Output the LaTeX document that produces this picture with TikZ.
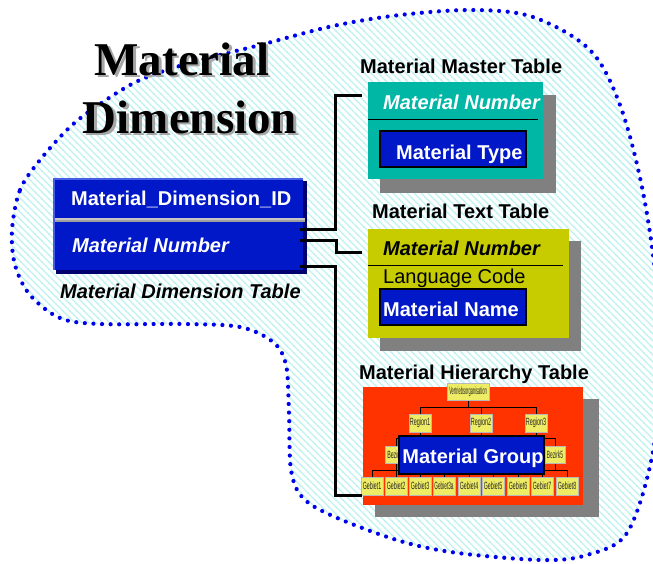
\documentclass[tikz,border=0pt]{standalone}
\usepackage{fontspec}
\setmainfont{Liberation Sans}
\newfontfamily\titlefont{Liberation Serif}
\usepackage{graphicx}
\usetikzlibrary{patterns}
\pgfdeclarepatternformonly{myhatch}{\pgfpoint{-1pt}{-1pt}}{\pgfpoint{8pt}{8pt}}{\pgfpoint{7pt}{7pt}}{%
 \pgfsetlinewidth{1.4pt}%
 \pgfpathmoveto{\pgfpoint{-0.5pt}{7.5pt}}%
 \pgfpathlineto{\pgfpoint{7.5pt}{-0.5pt}}%
 \pgfusepath{stroke}}
\definecolor{dimblue}{RGB}{0,24,200}
\definecolor{dimlight}{RGB}{70,95,230}
\definecolor{dimdark}{RGB}{0,0,110}
\definecolor{tealc}{RGB}{0,182,165}
\definecolor{olivec}{RGB}{198,204,0}
\definecolor{redc}{RGB}{255,51,0}
\definecolor{shadowg}{RGB}{128,128,128}
\definecolor{yelc}{RGB}{238,236,100}
\definecolor{hatchc}{RGB}{190,242,242}
\definecolor{dotblue}{RGB}{0,0,235}
\tikzset{
 panel/.style={draw=none, inner sep=0, outer sep=0},
 lbl/.style={inner sep=0, anchor=base west, font=\fontsize{20}{24}\selectfont\bfseries},
 lbli/.style={lbl, font=\fontsize{20}{24}\selectfont\bfseries\itshape},
 lblr/.style={lbl, font=\fontsize{20}{24}\selectfont},
 titlest/.style={inner sep=0, anchor=base, font=\titlefont\fontsize{47}{50}\selectfont\bfseries},
 conn/.style={line width=3, black, line join=miter},
 ybox/.style={draw=gray!55, line width=0.8, fill=yelc, inner sep=0, minimum height=18, font=\fontsize{10.5}{11}\selectfont, text=black!85},
 tree/.style={line width=1, black},
 bluebox/.style={draw=black, line width=1.6, fill=dimblue, inner sep=0},
}
\begin{document}
\begin{tikzpicture}[x=1pt,y=-1pt]
\useasboundingbox (0,0) rectangle (653,563);
% blob
\path[pattern=myhatch, pattern color=hatchc]
  plot[smooth cycle, tension=0.55] coordinates {(12,230) (20,190) (40,160) (70,127) (100,104) (140,80) (193,62) (260,45) (333,26) (400,15) (473,10) (533,17) (590,50) (620,105) (642,187) (656,280) (660,370) (652,457) (627,533) (587,555) (542,560) (458,553) (400,541) (335,517) (303,498) (291,470) (289,413) (286,365) (273,342) (240,327) (183,324) (100,324) (60,318) (30,295) (15,265)};
\draw[dotblue, line width=4.2, line cap=round, dash pattern=on 0pt off 8.6pt]
  plot[smooth cycle, tension=0.55] coordinates {(12,230) (20,190) (40,160) (70,127) (100,104) (140,80) (193,62) (260,45) (333,26) (400,15) (473,10) (533,17) (590,50) (620,105) (642,187) (656,280) (660,370) (652,457) (627,533) (587,555) (542,560) (458,553) (400,541) (335,517) (303,498) (291,470) (289,413) (286,365) (273,342) (240,327) (183,324) (100,324) (60,318) (30,295) (15,265)};
% title
\node[titlest, text=gray!70] (t1s) at (184.5,77.5) {Material};
\node[titlest] (t1) at (182,75) {Material};
\node[titlest, text=gray!70] (t2s) at (192.5,135.5) {Dimension};
\node[titlest] (t2) at (190,133) {Dimension};
% left table
\node[panel, fill=dimdark, minimum width=251, minimum height=93] (lds) at (181.5,227.5) {};
\node[panel, fill=dimblue, minimum width=249, minimum height=91] (ld) at (178.5,224.5) {};
\draw[dimlight, line width=2] (ld.south west) -- (ld.north west) -- (ld.north east);
\draw[gray!45, line width=2] (55,218.5) -- (305,218.5);
\draw[gray!75, line width=2] (55,221) -- (305,221);
\node[lbl, text=white] (ldid) at (71,205) {Material\_Dimension\_ID};
\node[lbli, text=white] (ldnum) at (72,252) {Material Number};
\node[lbli] (ldcap) at (60,298) {Material Dimension Table};
% master table
\node[lbl] (mmcap) at (360,73) {Material Master Table};
\node[panel, fill=shadowg, minimum width=176, minimum height=98] (mms) at (468,144) {};
\node[panel, fill=tealc, minimum width=175, minimum height=97] (mm) at (455.5,130.5) {};
\node[lbli, text=white] (mmnum) at (383,109) {Material Number};
\draw[black, line width=1] (368,119) -- (538,119);
\node[bluebox, minimum width=146, minimum height=36] (mmtype) at (453,149) {};
\node[lbl, text=white] (mmtypet) at (396,159) {Material Type};
% text table
\node[lbl] (mtcap) at (372,218) {Material Text Table};
\node[panel, fill=shadowg, minimum width=201, minimum height=110] (mts) at (480.5,296) {};
\node[panel, fill=olivec, minimum width=201, minimum height=109] (mt) at (468.5,283.5) {};
\node[lbli] (mtnum) at (383,255) {Material Number};
\draw[black, line width=1] (368,265) -- (563,265);
\node[lblr] (mtlang) at (383,283) {Language Code};
\node[bluebox, minimum width=146, minimum height=36] (mtname) at (453,307) {};
\node[lbl, text=white] (mtnamet) at (383,316) {Material Name};
% hierarchy table
\node[lbl] (mhcap) at (359,379) {Material Hierarchy Table};
\node[panel, fill=shadowg, minimum width=224, minimum height=118] (mhs) at (487,458) {};
\node[panel, fill=redc, minimum width=220, minimum height=118] (mh) at (473,446) {};
% tree lines
\draw[tree] (468,400) -- (468,407);
\draw[tree] (420,414) -- (420,407) -- (536,407) -- (536,414);
\draw[tree] (481,407) -- (481,414);
\draw[tree] (420,432) -- (420,438) -- (396,438) -- (396,446);
\draw[tree] (536,432) -- (536,438) -- (555,438) -- (555,446);
\draw[tree] (481,432) -- (481,440);
\draw[tree] (396,463) -- (396,470);
\draw[tree] (555,463) -- (555,470);
\draw[tree] (372,477) -- (372,470) -- (567,470) -- (567,477);
\foreach \gx in {396,420,444,469,493,518,542} { \draw[tree] (\gx,470) -- (\gx,477); }
% boxes
\node[ybox, minimum width=42, minimum height=17] (vo) at (468,391.5) {\scalebox{0.38}[1]{Vertriebsorganisation}};
\node[ybox, minimum width=22] (r1) at (420,423) {\scalebox{0.52}[1]{Region1}};
\node[ybox, minimum width=22] (r2) at (481,423) {\scalebox{0.52}[1]{Region2}};
\node[ybox, minimum width=22] (r3) at (536,423) {\scalebox{0.52}[1]{Region3}};
\node[ybox, minimum width=22, minimum height=17] (b1) at (396,454.5) {\scalebox{0.5}[1]{Bezirk1}};
\node[ybox, minimum width=20, minimum height=17] (b5) at (555,454.5) {\scalebox{0.46}[1]{Bezirk5}};
\node[ybox, minimum width=22] (g1) at (372,486) {\scalebox{0.5}[1]{Gebiet1}};
\node[ybox, minimum width=22] (g2) at (396,486) {\scalebox{0.5}[1]{Gebiet2}};
\node[ybox, minimum width=22] (g3) at (420,486) {\scalebox{0.5}[1]{Gebiet3}};
\node[ybox, minimum width=22] (g3a) at (444,486) {\scalebox{0.45}[1]{Gebiet3a}};
\node[ybox, minimum width=22] (g4) at (469,486) {\scalebox{0.5}[1]{Gebiet4}};
\node[ybox, minimum width=22] (g5) at (493,486) {\scalebox{0.5}[1]{Gebiet5}};
\node[ybox, minimum width=22] (g6) at (518,486) {\scalebox{0.5}[1]{Gebiet6}};
\node[ybox, minimum width=22] (g7) at (542,486) {\scalebox{0.5}[1]{Gebiet7}};
\node[ybox, minimum width=22] (g8) at (567,486) {\scalebox{0.5}[1]{Gebiet8}};
\node[bluebox, line width=2, minimum width=145, minimum height=38] (mg) at (471.5,455) {};
\node[lbl, text=white, anchor=base] (mgt) at (473,463) {Material Group};
% connectors
\coordinate (c1s) at (300,229);
\coordinate (c1e) at (362,95);
\coordinate (c2s) at (300,240);
\coordinate (c2m) at (336,252);
\coordinate (c2e) at (362,252);
\coordinate (c3s) at (300,266);
\coordinate (c3e) at (362,495);
\draw[conn] (c1s) -| (335,95) -- (c1e);
\draw[conn] (c2s) -| (c2m) -- (c2e);
\draw[conn] (c3s) -| (335,495) -- (c3e);
\end{tikzpicture}
\end{document}
